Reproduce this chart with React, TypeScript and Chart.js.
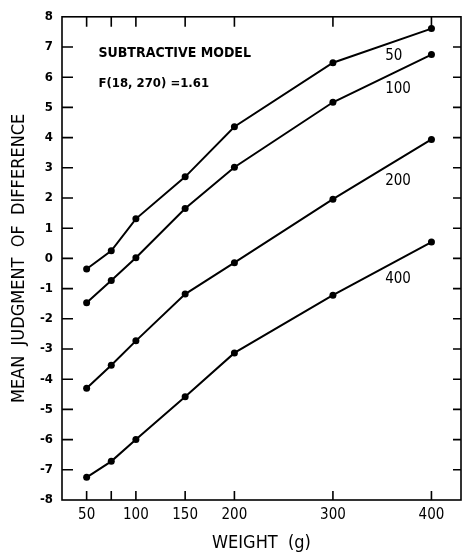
import React, { useEffect, useRef } from "react";
import { Chart, registerables } from "chart.js";
Chart.register(...registerables);

const weights = [50, 75, 100, 150, 200, 300, 400];
const xTickValues = [50, 75, 100, 150, 200, 300, 400];
const xTickLabels = ["50", "", "100", "150", "200", "300", "400"];
const yTickValues = [-8, -7, -6, -5, -4, -3, -2, -1, 0, 1, 2, 3, 4, 5, 6, 7, 8];
const seriesNames = ["50", "100", "200", "400"];
const s50 = [-0.35, 0.25, 1.31, 2.7, 4.36, 6.48, 7.61];
const s100 = [-1.47, -0.73, 0.02, 1.65, 3.02, 5.17, 6.75];
const s200 = [-4.3, -3.54, -2.73, -1.18, -0.14, 1.96, 3.94];
const s400 = [-7.25, -6.72, -6.0, -4.58, -3.13, -1.22, 0.54];
const seriesLabelX = 353;
const seriesLabelY = [6.7, 5.6, 2.55, -0.7];
const noteLines = ["SUBTRACTIVE MODEL", "F(18, 270) =1.61"];
const noteX = 62;
const noteY = [6.8, 5.8];
const xTitle = "WEIGHT  (g)";
const yTitle = "MEAN  JUDGMENT  OF  DIFFERENCE";

const FONT = "'DejaVu Sans Condensed', 'DejaVu Sans', sans-serif";

const framePlugin = {
  id: "framePlugin",
  afterDraw(chart: any) {
    const ctx = chart.ctx;
    const { left, right, top, bottom } = chart.chartArea;
    const xs = chart.scales.x;
    const ys = chart.scales.y;
    ctx.save();
    ctx.strokeStyle = "#000";
    ctx.lineWidth = 1.6;
    ctx.strokeRect(left, top, right - left, bottom - top);
    ctx.beginPath();
    xTickValues.forEach((v) => {
      const px = xs.getPixelForValue(v);
      ctx.moveTo(px, bottom);
      ctx.lineTo(px, bottom - 9);
      ctx.moveTo(px, top);
      ctx.lineTo(px, top + 10);
    });
    yTickValues.forEach((v) => {
      if (v === -8 || v === 8) return;
      const py = ys.getPixelForValue(v);
      ctx.moveTo(left, py);
      ctx.lineTo(left + 11, py);
      ctx.moveTo(right, py);
      ctx.lineTo(right - 8, py);
    });
    ctx.stroke();

    ctx.fillStyle = "#000";
    ctx.textBaseline = "middle";
    ctx.textAlign = "left";
    ctx.font = `bold 14px ${FONT}`;
    ctx.fillText(noteLines[0], xs.getPixelForValue(noteX), ys.getPixelForValue(noteY[0]));
    ctx.font = `bold 13px ${FONT}`;
    ctx.fillText(noteLines[1], xs.getPixelForValue(noteX), ys.getPixelForValue(noteY[1]));
    ctx.font = `15px ${FONT}`;
    seriesNames.forEach((name, i) => {
      ctx.fillText(name, xs.getPixelForValue(seriesLabelX), ys.getPixelForValue(seriesLabelY[i]));
    });
    ctx.restore();
  },
};

export default function App() {
  const ref = useRef<HTMLCanvasElement>(null);
  useEffect(() => {
    if (!ref.current) return;
    const mk = (vals: number[]) => ({
      data: weights.map((w, i) => ({ x: w, y: vals[i] })),
      borderColor: "#000",
      backgroundColor: "#000",
      borderWidth: 2,
      pointRadius: 3.5,
      pointBackgroundColor: "#000",
      pointBorderWidth: 0,
      tension: 0,
    });
    const chart = new Chart(ref.current, {
      type: "line",
      data: { datasets: [mk(s50), mk(s100), mk(s200), mk(s400)] },
      options: {
        animation: false,
        responsive: false,
        layout: { padding: { top: 15, right: 2, left: 0, bottom: 0 } },
        plugins: { legend: { display: false }, tooltip: { enabled: false } },
        scales: {
          x: {
            type: "linear",
            min: 25,
            max: 430,
            grid: { display: false, drawTicks: false },
            border: { display: false },
            afterBuildTicks: (s: any) => {
              s.ticks = xTickValues.map((v) => ({ value: v }));
            },
            afterFit: (s: any) => {
              s.height = 54;
            },
            ticks: {
              color: "#000",
              padding: 6,
              maxRotation: 0,
              autoSkip: false,
              font: { family: FONT, size: 15 },
              callback: (v: any) => {
                const i = xTickValues.indexOf(Number(v));
                return i >= 0 ? xTickLabels[i] : "";
              },
            },
            title: {
              display: true,
              text: xTitle,
              color: "#000",
              font: { family: FONT, size: 18 },
              padding: { top: 0, bottom: 0 },
            },
          },
          y: {
            type: "linear",
            min: -8,
            max: 8,
            grid: { display: false, drawTicks: false },
            border: { display: false },
            afterBuildTicks: (s: any) => {
              s.ticks = yTickValues.map((v) => ({ value: v }));
            },
            afterFit: (s: any) => {
              s.width = 62;
            },
            ticks: {
              color: "#000",
              padding: 9,
              autoSkip: false,
              font: { family: FONT, size: 13, weight: "bold" },
            },
            title: {
              display: true,
              text: yTitle,
              color: "#000",
              font: { family: FONT, size: 18 },
              padding: { top: 9, bottom: 9 },
            },
          },
        },
      },
      plugins: [framePlugin],
    } as any);
    return () => chart.destroy();
  }, []);
  return (
    <div style={{ position: "absolute", left: 0, top: 0, width: 465, height: 554, background: "#fff" }}>
      <canvas ref={ref} width={465} height={554} style={{ display: "block" }} />
    </div>
  );
}
